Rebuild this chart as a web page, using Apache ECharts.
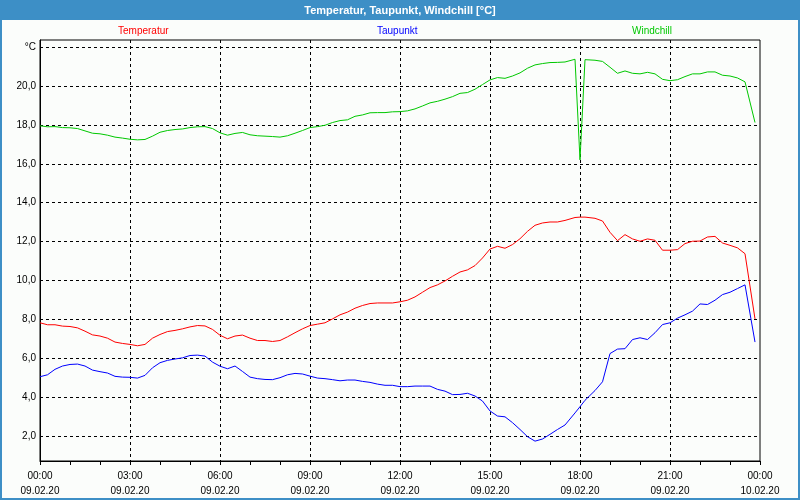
<!DOCTYPE html>
<html><head><meta charset="utf-8">
<script src="https://cdn.jsdelivr.net/npm/echarts@6/dist/echarts.min.js"></script>
<style>html,body{margin:0;padding:0;background:#fbfdfb}#c{width:800px;height:500px}</style>
</head><body><div id="c"></div>
<script>
// time of each sample, minutes after 09.02.20 00:00
const minutes = [0,15,30,45,60,75,90,105,120,135,150,165,180,195,210,225,240,255,270,285,300,315,330,345,
  360,375,390,405,420,435,450,465,480,495,510,525,540,555,570,585,600,615,630,645,660,675,690,705,
  720,735,750,765,780,795,810,825,840,855,870,885,900,915,930,945,960,975,990,1005,1020,1035,1050,
  1070,1080,1090,
  1110,1125,1140,1155,1170,1185,1200,1215,1230,1245,1260,1275,1290,1305,1320,1335,1350,1365,1380,1395,1410,
  1430];
const temperatur = [7.83,7.73,7.73,7.66, 7.64,7.57,7.40,7.21, 7.15,7.04,6.84,6.77, 6.72,6.65,6.72,7.04,
  7.23,7.38,7.44,7.52, 7.62,7.69,7.67,7.49, 7.19,7.01,7.15,7.20, 7.04,6.92,6.92,6.87,
  6.92,7.11,7.32,7.52, 7.69,7.76,7.83,8.03, 8.24,8.38,8.58,8.72, 8.82,8.85,8.85,8.85,
  8.91,8.99,9.16,9.40, 9.64,9.78,9.98,10.22, 10.44,10.55,10.77,11.16, 11.62,11.76,11.66,11.85,
  12.15,12.53,12.84,12.96, 13.01,13.01,13.09,
  13.24,13.26,13.26,
  13.20,13.06, 12.48,12.05,12.36,12.14, 12.02,12.14,12.07,11.56, 11.56,11.59,11.90,12.02,
  12.03,12.24,12.27,11.93, 11.81,11.68,11.38,
  8.03];
const taupunkt = [5.06,5.16,5.44,5.61, 5.69,5.71,5.61,5.40, 5.32,5.25,5.08,5.04, 5.03,4.99,5.13,5.52,
  5.78,5.90,5.97,6.03, 6.15,6.17,6.12,5.81, 5.60,5.47,5.61,5.33, 5.04,4.96,4.92,4.91,
  5.01,5.16,5.23,5.20, 5.09,4.99,4.96,4.91, 4.85,4.89,4.89,4.82, 4.77,4.68,4.62,4.62,
  4.55,4.55,4.58,4.58, 4.58,4.41,4.32,4.14, 4.15,4.21,4.07,3.81, 3.30,3.04,3.00,2.70,
  2.35,1.98,1.75,1.86, 2.10,2.35,2.58,
  3.20,3.52,3.85,
  4.35,4.80, 6.25,6.48,6.50,6.97, 7.06,6.97,7.32,7.74, 7.83,8.07,8.24,8.43,
  8.80,8.77,8.99,9.28, 9.40,9.59,9.78,
  6.84];
const windchill = [17.95,17.90,17.91,17.86, 17.85,17.81,17.69,17.57, 17.54,17.47,17.37,17.32, 17.26,17.23,17.25,17.42,
  17.62,17.71,17.76,17.79, 17.86,17.90,17.91,17.81, 17.59,17.47,17.56,17.61, 17.49,17.44,17.42,17.40,
  17.37,17.44,17.57,17.71, 17.86,17.91,17.98,18.12, 18.22,18.26,18.44,18.51, 18.62,18.63,18.63,18.67,
  18.68,18.72,18.82,18.97, 19.13,19.21,19.32,19.45, 19.62,19.66,19.83,20.07, 20.31,20.43,20.39,20.51,
  20.67,20.91,21.08,21.15, 21.20,21.21,21.23,
  21.37,16.20,21.35,
  21.32,21.26, 20.96,20.65,20.77,20.65, 20.62,20.70,20.62,20.34, 20.27,20.32,20.48,20.62,
  20.62,20.72,20.72,20.55, 20.51,20.41,20.21,
  18.12];
const timeLabels = ['00:00','03:00','06:00','09:00','12:00','15:00','18:00','21:00','00:00'];
const dateLabels = ['09.02.20','09.02.20','09.02.20','09.02.20','09.02.20','09.02.20','09.02.20','09.02.20','10.02.20'];
const seriesNames = ['Temperatur','Taupunkt','Windchill'];
const seriesColors = ['#ff0000','#0000ff','#00c800'];

const FONT = '"Liberation Sans", Arial, sans-serif';
const pairs = arr => arr.map((v, i) => [minutes[i] / 60, v]);
const dashed = {show: true, lineStyle: {color: '#000', width: 1, type: [3, 3]}, showMinLine: false, showMaxLine: false};

const chart = echarts.init(document.getElementById('c'), null, {renderer: 'canvas'});
chart.setOption({
  backgroundColor: '#fbfdfb',
  animation: false,
  title: {
    text: 'Temperatur, Taupunkt, Windchill [°C]',
    left: 'center', top: 0,
    textStyle: {color: '#ffffff', fontSize: 11, fontWeight: 'bold', fontFamily: FONT}
  },
  graphic: [
    {type: 'rect', z: -1, shape: {x: 0, y: 0, width: 800, height: 20}, style: {fill: '#3d8fc6'}},
    {type: 'rect', z: -1, shape: {x: 0, y: 0, width: 800, height: 500}, style: {fill: null, stroke: '#3d8fc6', lineWidth: 4}}
  ],
  legend: [0, 1, 2].map(i => ({
    data: [{name: seriesNames[i], textStyle: {color: seriesColors[i]}}],
    left: [108, 367, 622][i], top: 21,
    icon: 'none', itemWidth: 0, itemHeight: 0, selectedMode: false,
    textStyle: {fontSize: 10, fontFamily: FONT}
  })),
  grid: {left: 40, right: 40, top: 40, bottom: 39, show: true, borderColor: '#000', borderWidth: 1, backgroundColor: '#fbfdfb', containLabel: false},
  xAxis: {
    type: 'value', min: 0, max: 24, interval: 3,
    axisLine: {show: true, lineStyle: {color: '#000', width: 1}},
    axisTick: {show: true, length: 4, lineStyle: {color: '#000'}},
    minorTick: {show: true, splitNumber: 3, length: 4, lineStyle: {color: '#000'}},
    splitLine: dashed,
    axisLabel: {
      margin: 8, fontSize: 10, fontFamily: FONT, color: '#000', lineHeight: 15,
      formatter: v => { const k = Math.round(v / 3); return timeLabels[k] + '\n' + dateLabels[k]; }
    }
  },
  yAxis: {
    type: 'value', min: 0.73, max: 22.36, splitNumber: 11,
    axisLine: {show: true, lineStyle: {color: '#000', width: 1}},
    axisTick: {show: false},
    splitLine: dashed,
    axisLabel: {
      margin: 4, fontSize: 10, fontFamily: FONT, color: '#000',
      showMinLabel: false, showMaxLabel: false,
      formatter: v => Math.abs(v - 22) < 1e-6 ? '°C' : v.toFixed(1).replace('.', ',')
    }
  },
  series: [temperatur, taupunkt, windchill].map((arr, i) => ({
    name: seriesNames[i], type: 'line', data: pairs(arr),
    showSymbol: false, symbol: 'none',
    lineStyle: {color: seriesColors[i], width: 1},
    itemStyle: {color: seriesColors[i]}
  }))
});
</script></body></html>
